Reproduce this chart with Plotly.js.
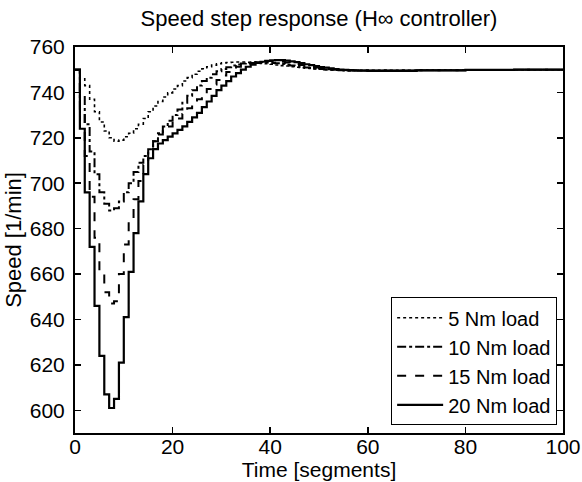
<!DOCTYPE html>
<html>
<head>
<meta charset="utf-8">
<script src="https://cdn.plot.ly/plotly-3.0.1.min.js"></script>
<style>html,body{margin:0;padding:0;background:#fff;}#chart{width:582px;height:482px;}</style>
</head>
<body>
<div id="chart"></div>
<script>
// Time axis (segments)
const timeX = [0,1,2,3,4,5,6,7,8,9,10,11,12,13,14,15,16,17,18,19,20,21,22,23,24,25,26,27,28,29,30,
  31,32,33,34,35,36,37,38,39,40,41,42,43,44,45,46,47,48,49,50,51,52,53,54,55,56,57,58,59,60,70,80,90,100];

// Speed [1/min] for each load
const load5 = [750,746,743,737,731.5,727,723,720,718.5,719,720.5,722,724,726,728.5,731.5,734,736,738,739.8,741.5,
  743,745,746.5,748,749.3,750.4,751.3,752,752.6,753,753.2,753.3,753.4,753.4,753.3,753.2,753,752.8,752.6,752.4,
  752.1,751.8,751.6,751.3,751.1,750.9,750.7,750.5,750.3,750.2,750,749.9,749.8,749.8,749.7,749.7,749.7,749.7,749.7,749.7,
  749.8,749.9,750,750];
const load10 = [750,738,726,714,704,696,691,688,689,692,696,700,705,709,712,715,718.5,722,725,727.5,730,
  732.5,735.5,738.5,741,743,745,746.5,748,749.3,750.3,751.1,751.8,752.3,752.7,753,753.2,753.3,753.3,753.2,753,
  752.8,752.5,752.2,751.9,751.6,751.3,751,750.7,750.5,750.3,750.1,750,749.9,749.8,749.7,749.7,749.7,749.7,749.7,749.7,
  749.8,749.9,750,750];
const load15 = [750,731,712,694,676,661,652,647,648,660,673,684,693,701,708,714,718.5,721.5,723.5,725,726.5,
  728.5,730.5,733,735,737,739.5,741.5,743.5,745.5,747.5,749,750.3,751.3,752,752.6,753,753.4,753.6,753.8,753.8,
  753.7,753.5,753.2,752.9,752.5,752.1,751.7,751.3,751,750.7,750.4,750.2,750,749.9,749.8,749.7,749.7,749.6,749.6,749.6,
  749.8,749.9,750,750];
const load20 = [750,724,696,672,646,624,607,601,605,621,641,661,678,692,704,711,715,717.5,719,720.5,722,
  723.5,725,727,729,731,733.5,736,738.5,741,743,745,747,748.5,750,751.3,752.2,753,753.5,753.9,754.1,
  754.2,754.2,754,753.7,753.3,752.9,752.4,752,751.6,751.2,750.9,750.6,750.3,750.1,749.9,749.8,749.7,749.6,749.6,749.5,
  749.7,749.9,750,750];

const seriesNames = ['5 Nm load','10 Nm load','15 Nm load','20 Nm load'];
const seriesData = [load5, load10, load15, load20];
const seriesDash = ['dot','dashdot','dash','solid'];
const seriesWidth = [1.6, 2, 2, 2.2];

const xTicks = [0,20,40,60,80,100];
const yTicks = [600,620,640,660,680,700,720,740,760];

const FONT = 'Liberation Sans, Arial, Helvetica, sans-serif';

const traces = seriesData.map((ys, i) => ({
  x: timeX, y: ys, type: 'scatter', mode: 'lines', name: seriesNames[i],
  line: {color: '#000', width: seriesWidth[i], dash: seriesDash[i], shape: 'hv'}
}));

const axisCommon = {
  showline: true, linecolor: '#000', linewidth: 2, mirror: 'ticks',
  ticks: 'inside', ticklen: 6, tickwidth: 1.5, tickcolor: '#000',
  showgrid: false, zeroline: false,
  tickfont: {family: FONT, size: 21, color: '#000'}
};

const layout = {
  width: 582, height: 482,
  margin: {l: 75, r: 19, t: 47, b: 49, pad: 0},
  paper_bgcolor: '#fff', plot_bgcolor: '#fff',
  font: {family: FONT, size: 21, color: '#000'},
  title: {text: 'Speed step response (H∞ controller)', font: {family: FONT, size: 22, color: '#000'},
    x: 0.5, xref: 'paper', y: 0.962, yref: 'container', yanchor: 'middle'},
  xaxis: Object.assign({}, axisCommon, {range: [0, 100], tickvals: xTicks, ticktext: xTicks.map(String),
    ticklabelstandoff: -6,
    title: {text: 'Time [segments]', font: {family: FONT, size: 21}, standoff: 2}}),
  yaxis: Object.assign({}, axisCommon, {range: [590, 760], tickvals: yTicks, ticktext: yTicks.map(String),
    ticklabelstandoff: 4,
    title: {text: 'Speed [1/min]', font: {family: FONT, size: 22}, standoff: 2}}),
  showlegend: true,
  legend: {x: 0.988, xanchor: 'right', y: 0.02, yanchor: 'bottom', bgcolor: '#fff',
    bordercolor: '#000', borderwidth: 1, font: {family: FONT, size: 20, color: '#000'},
    tracegroupgap: 0, itemwidth: 46}
};

Plotly.newPlot('chart', traces, layout, {displayModeBar: false, staticPlot: true});
</script>
</body>
</html>
